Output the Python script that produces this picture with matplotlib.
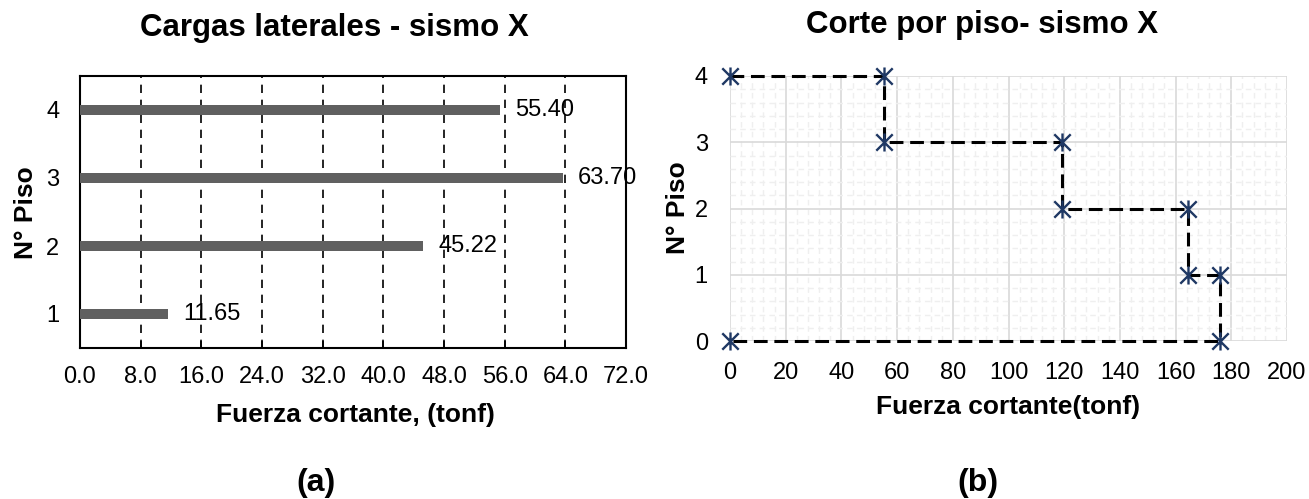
import numpy as np
import matplotlib
matplotlib.use("Agg")
import matplotlib.pyplot as plt
from matplotlib.path import Path
from matplotlib.ticker import MultipleLocator

plt.rcParams['font.family'] = ['Liberation Sans', 'DejaVu Sans']

# lateral loads per floor (tonf)
pisos = [1, 2, 3, 4]
cargas = [11.65, 45.22, 63.70, 55.40]

# storey shear diagram (tonf vs floor)
corte_x = [0, 55.40, 55.40, 119.10, 119.10, 164.32, 164.32, 175.97, 175.97, 0]
corte_y = [4, 4, 3, 3, 2, 2, 1, 1, 0, 0]

W, H = 1309, 499
fig = plt.figure(figsize=(W / 100, H / 100), dpi=100)

# ---- (a) bar chart
ax1 = fig.add_axes([80 / W, 1 - 348 / H, 546 / W, 272 / H])
ax1.barh(pisos, cargas, height=0.15, color="#606060", zorder=3)
for p, c in zip(pisos, cargas):
    ax1.text(c + 2.0, p, f"{c:.2f}", va="center", ha="left", fontsize=17, zorder=4)
ax1.set_xlim(0, 72)
ax1.set_ylim(0.5, 4.5)
ax1.set_xticks(np.arange(0, 73, 8))
ax1.set_xticklabels([f"{v:.1f}" for v in np.arange(0, 73, 8)])
ax1.set_yticks(pisos)
ax1.tick_params(axis="x", direction="in", length=5, width=1.2, pad=13, labelsize=17)
ax1.tick_params(axis="y", length=0, pad=15, labelsize=17)
ax1.xaxis.grid(True, color="black", linestyle=(0, (5, 4)), linewidth=1.2, zorder=1)
for s in ax1.spines.values():
    s.set_linewidth(1.5)
ax1.set_xlabel("Fuerza cortante, (tonf)", fontsize=19, fontweight="bold", va="center")
ax1.xaxis.set_label_coords(0.504, -0.246)
ax1.set_ylabel("N° Piso", fontsize=19, fontweight="bold", va="center")
ax1.yaxis.set_label_coords(-0.099, 0.496)

# ---- (b) shear diagram
# excel-like star marker: an X with a vertical stroke
star = Path([(-1, -1), (1, 1), (-1, 1), (1, -1), (0, -1.1), (0, 1.1)],
            [Path.MOVETO, Path.LINETO, Path.MOVETO, Path.LINETO, Path.MOVETO, Path.LINETO])
ax2 = fig.add_axes([730 / W, 1 - 341 / H, 557 / W, 265 / H])
ax2.plot(corte_x, corte_y, color="black", linestyle=(0, (4.5, 2.2)), linewidth=2.2,
         zorder=3, clip_on=False)
ax2.plot(corte_x, corte_y, linestyle="none", marker=star, markersize=13,
         markeredgecolor="#1f3864", markeredgewidth=1.7, clip_on=False, zorder=4)
ax2.set_xlim(0, 200)
ax2.set_ylim(0, 4)
ax2.xaxis.set_major_locator(MultipleLocator(20))
ax2.yaxis.set_major_locator(MultipleLocator(1))
ax2.xaxis.set_minor_locator(MultipleLocator(4))
ax2.yaxis.set_minor_locator(MultipleLocator(0.2))
ax2.grid(True, which="major", color="#d9d9d9", linewidth=1.2, zorder=1)
ax2.grid(True, which="minor", color="#efefef", linewidth=1.0, linestyle=(0, (4, 3)), zorder=0)
ax2.tick_params(which="both", length=0)
ax2.tick_params(axis="x", pad=15, labelsize=17)
ax2.tick_params(axis="y", pad=16, labelsize=17)
for s in ax2.spines.values():
    s.set_visible(False)
ax2.set_xlabel("Fuerza cortante(tonf)", fontsize=19, fontweight="bold", va="center")
ax2.xaxis.set_label_coords(0.5, -0.249)
ax2.set_ylabel("N° Piso", fontsize=19, fontweight="bold", va="center")
ax2.yaxis.set_label_coords(-0.093, 0.502)

# titles and panel tags
fig.text(334 / W, 1 - 28 / H, "Cargas laterales - sismo X", ha="center", va="center",
         fontsize=22.5, fontweight="bold")
fig.text(982 / W, 1 - 25 / H, "Corte por piso- sismo X", ha="center", va="center",
         fontsize=22.5, fontweight="bold")
fig.text(316 / W, 1 - 483 / H, "(a)", ha="center", va="center", fontsize=23, fontweight="bold")
fig.text(978 / W, 1 - 483 / H, "(b)", ha="center", va="center", fontsize=23, fontweight="bold")

fig.savefig("out.png", dpi=100, facecolor="white")
